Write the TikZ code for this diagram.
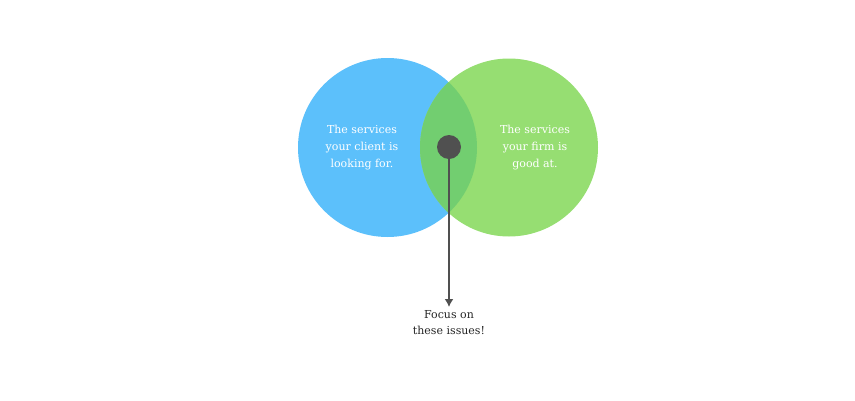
\documentclass[tikz,border=0pt]{standalone}
\usepackage{fontspec}
\setmainfont{DejaVu Serif}
\usetikzlibrary{arrows.meta}
\definecolor{clientblue}{RGB}{92,192,251}
\definecolor{firmgreen}{RGB}{150,222,114}
\definecolor{bothgreen}{RGB}{114,206,112}
\definecolor{dotgray}{RGB}{80,80,80}
\tikzset{
    circletext/.style={text=white, align=center, font=\fontsize{11}{17}\selectfont},
    focustext/.style={text=black!85, align=center, font=\fontsize{11}{16}\selectfont}
}
\begin{document}
\begin{tikzpicture}[x=1pt,y=-1pt]
    \useasboundingbox (0,0) rectangle (855,400);
    % Circles
    \fill[clientblue] (387.5,147.5) circle (89.5);
    \fill[firmgreen] (509,147.5) circle (89);
    % Overlap
    \begin{scope}
        \clip (387.5,147.5) circle (89.5);
        \fill[bothgreen] (509,147.5) circle (89);
    \end{scope}
    \node[circletext] (client) at (362,148) {The services\\your client is\\looking for.};
    \node[circletext] (firm) at (535,148) {The services\\your firm is\\good at.};

    % Focus
    \node[circle, fill=dotgray, minimum size=24pt, inner sep=0pt] (dot) at (449,147) {};
    \node[focustext, anchor=north] (focus) at (449,307) {Focus on\\these issues!};
    \draw[dotgray, line width=2.2pt, -{Latex[length=8pt,width=9pt]}] (dot.center) -- (focus.north);
\end{tikzpicture}
\end{document}
